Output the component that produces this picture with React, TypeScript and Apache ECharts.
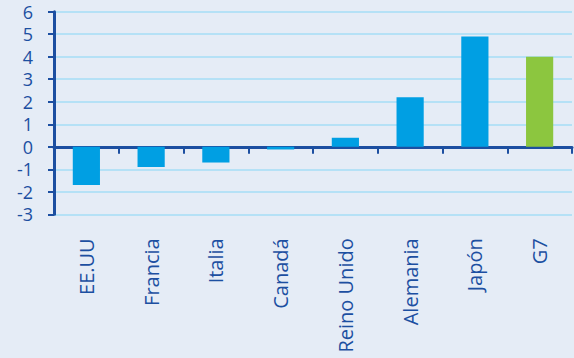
import React, { useEffect, useRef } from "react";
import * as echarts from "echarts";

const categories = ["EE.UU", "Francia", "Italia", "Canadá", "Reino Unido", "Alemania", "Japón", "G7"];
const values = [-1.7, -0.9, -0.7, -0.12, 0.4, 2.2, 4.9, 4.0];
const barColors = ["#009fe3", "#009fe3", "#009fe3", "#009fe3", "#009fe3", "#009fe3", "#009fe3", "#8cc63f"];
const yMin = -3;
const yMax = 6;

export default function App() {
  const ref = useRef<HTMLDivElement>(null);
  useEffect(() => {
    if (!ref.current) return;
    const chart = echarts.init(ref.current, null, { renderer: "svg" });
    const axisColor = "#1c4fa1";
    chart.setOption({
      animation: false,
      backgroundColor: "#e5ecf6",
      textStyle: { fontFamily: "Open Sans" },
      grid: {
        left: 54,
        right: 2,
        top: 11.7,
        bottom: 143.7,
        containLabel: false,
        outerBoundsMode: "none",
      },
      xAxis: {
        type: "category",
        data: categories,
        axisLine: { show: true, onZero: true, lineStyle: { color: axisColor, width: 3 } },
        axisTick: { show: true, alignWithLabel: false, length: 7, lineStyle: { color: axisColor, width: 2 } },
        axisLabel: {
          rotate: 90,
          margin: 24,
          color: axisColor,
          fontSize: 20,
          fontFamily: "Open Sans",
          interval: 0,
        },
        splitLine: { show: false },
      },
      yAxis: {
        type: "value",
        min: yMin,
        max: yMax,
        interval: 1,
        axisLine: { show: true, lineStyle: { color: axisColor, width: 3 } },
        axisTick: { show: true, length: 6, lineStyle: { color: axisColor, width: 2 } },
        axisLabel: { color: axisColor, fontSize: 18, lineHeight: 20, margin: 21, fontFamily: "Open Sans" },
        splitLine: { show: true, lineStyle: { color: "#b5e1f6", width: 2 } },
      },
      series: [
        {
          type: "bar",
          barWidth: "42%",
          data: values.map((v, i) => ({
            value: v,
            itemStyle: { color: barColors[i] },
          })),
        },
      ],
    });
    return () => chart.dispose();
  }, []);
  return (
    <div
      ref={ref}
      style={{ position: "fixed", left: 0, top: 0, width: 574, height: 358 }}
    />
  );
}
